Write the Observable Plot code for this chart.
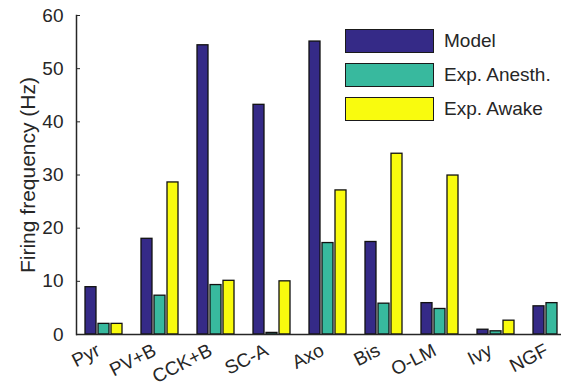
<!DOCTYPE html>
<html><head><meta charset="utf-8">
<script src="https://cdn.jsdelivr.net/npm/d3@7"></script>
<script src="https://cdn.jsdelivr.net/npm/@observablehq/plot@0.6"></script>
<style>
body{margin:0;background:#fff;overflow:hidden;font-family:"Liberation Sans",Arial,sans-serif;}
#wrap{position:relative;width:561px;height:391px;overflow:hidden;}
#legend{position:absolute;left:345px;top:29px;}
.item{display:flex;align-items:center;height:24px;margin-bottom:10px;font-size:19px;color:#262626;}
.sw{width:89px;height:24px;border:1.5px solid #1a1a1a;box-sizing:border-box;margin-right:10px;}
</style>
</head><body>
<div id="wrap"><div id="chart"></div><div id="legend"></div></div>
<script>
const cells = ["Pyr","PV+B","CCK+B","SC-A","Axo","Bis","O-LM","Ivy","NGF"];
const series = ["Model","Exp. Anesth.","Exp. Awake"];
const model  = [8.9, 18.0, 54.4, 43.2, 55.1, 17.4, 5.9, 0.9, 5.3];
const anesth = [2.0, 7.3, 9.3, 0.3, 17.2, 5.8, 4.8, 0.6, 5.9];
const awake  = [2.0, 28.6, 10.1, 10.0, 27.1, 34.0, 29.9, 2.6, null];
const colors = ["#352a87","#38b99e","#f9fb0e"];
const yTicks = [0,10,20,30,40,50,60];

const values = [model, anesth, awake];
const data = [];
cells.forEach((c,i)=>series.forEach((s,j)=>{
  if (values[j][i] != null) data.push({cell:c, series:s, value:values[j][i]});
}));

const ink = "#262626";
const chart = Plot.plot({
  width: 561, height: 391,
  marginLeft: 76, marginRight: 0, marginTop: 15, marginBottom: 57,
  style: {fontFamily: '"Liberation Sans", Arial, sans-serif', background: "#fff"},
  fx: {domain: cells, range: [76, 580], padding: 0, label: null, axis: null},
  x: {domain: series, paddingInner: 0.13, paddingOuter: 0.7, axis: null},
  y: {domain: [0, 60]},
  color: {domain: series, range: colors},
  marks: [
    Plot.barY(data, {fx: "cell", x: "series", y: "value", fill: "series", stroke: "#111", strokeWidth: 1.3}),
    Plot.ruleY([0], {stroke: ink, strokeWidth: 1.5}),
    Plot.frame({anchor: "left", facetAnchor: "left", stroke: ink, strokeWidth: 1.5}),
    Plot.axisY(yTicks, {tickSize: -4, tickPadding: 17, fontSize: 19, color: ink, label: null}),
    Plot.axisY([], {tickSize: 0, fontSize: 21, color: ink,
      label: "Firing frequency (Hz)", labelAnchor: "center", labelArrow: "none", labelOffset: 56}),
    Plot.text(cells, {fx: d => d, text: d => d, frameAnchor: "bottom", rotate: -27, textAnchor: "end",
      dx: -3, dy: 20, fontSize: 19, fill: ink})
  ]
});
document.getElementById("chart").appendChild(chart);

const leg = document.getElementById("legend");
series.forEach((s,j)=>{
  const it = document.createElement("div"); it.className = "item";
  const sw = document.createElement("div"); sw.className = "sw"; sw.style.background = colors[j];
  const t = document.createElement("span"); t.textContent = s;
  it.appendChild(sw); it.appendChild(t); leg.appendChild(it);
});
</script>
</body></html>
